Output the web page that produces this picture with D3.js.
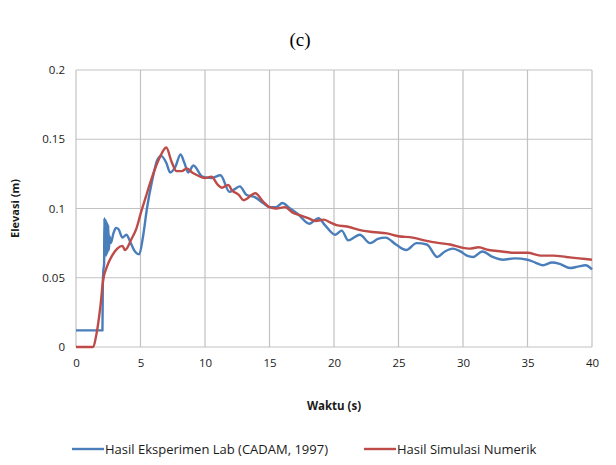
<!DOCTYPE html>
<html>
<head>
<meta charset="utf-8">
<script src="https://cdn.jsdelivr.net/npm/d3@7"></script>
<style>
  body { margin: 0; background: #fff; }
  svg { display: block; }
  .tick text { font-family: "Open Sans", sans-serif; font-size: 11.5px; fill: #1a1a1a; }
</style>
</head>
<body>
<div id="chart"></div>
<script>
'use strict';

// Experimental (CADAM, 1997)
const expTime = [0, 2.05, 2.08, 2.12, 2.18, 2.2, 2.25, 2.3, 2.35, 2.4, 2.45, 2.5, 2.55, 2.6, 2.7, 2.9, 3.1, 3.3, 3.6, 3.9,
  4.2, 4.5, 4.9, 5.2, 5.5, 5.9, 6.3, 6.6, 7.0, 7.3, 7.7, 8.1, 8.4, 8.7, 9.1, 9.8, 10.5, 11.2, 11.9, 12.3,
  12.7, 13.2, 13.9, 14.5, 15.0, 15.5, 16.0, 16.6, 17.2, 18.1, 18.8, 19.3, 20.1, 20.6, 21.1, 22.0, 22.8, 23.4, 24.0, 24.8,
  25.6, 26.4, 27.2, 28.0, 28.6, 29.2, 29.8, 30.3, 30.8, 31.5, 32.3, 33.1, 34.0, 35.0, 35.6, 36.2, 36.9, 37.5, 38.3, 38.9, 39.5, 40];
const expElev = [0.012, 0.012, 0.045, 0.055, 0.06, 0.093, 0.065, 0.092, 0.066, 0.090, 0.068, 0.088, 0.07, 0.08, 0.075, 0.082, 0.086, 0.085, 0.079, 0.081,
  0.076, 0.070, 0.067, 0.08, 0.1, 0.12, 0.135, 0.138, 0.133, 0.126, 0.13, 0.139, 0.133, 0.126, 0.131, 0.123, 0.122, 0.124, 0.112, 0.114,
  0.116, 0.110, 0.108, 0.104, 0.101, 0.101, 0.104, 0.100, 0.096, 0.089, 0.093, 0.088, 0.081, 0.084, 0.077, 0.081, 0.075, 0.078, 0.079, 0.074,
  0.070, 0.075, 0.074, 0.065, 0.069, 0.071, 0.069, 0.066, 0.065, 0.069, 0.065, 0.063, 0.064, 0.063, 0.061, 0.059, 0.061, 0.060, 0.057, 0.058, 0.059, 0.056];

// Numerical simulation
const simTime = [0, 1.3, 1.6, 1.9, 2.1, 2.4, 2.8, 3.2, 3.6, 3.8, 4.3, 4.7, 5.0, 5.4, 5.7, 6.1, 6.5, 7.0, 7.4, 7.8,
  8.2, 8.6, 9.0, 9.4, 10.0, 10.5, 11.0, 11.3, 11.8, 12.1, 12.6, 13.0, 13.9, 14.5, 15.0, 15.5, 16.2, 16.8, 17.4, 18.0,
  18.6, 19.2, 19.7, 20.2, 21.0, 22.2, 23.0, 24.1, 25.0, 26.1, 27.0, 28.2, 29.0, 29.8, 30.5, 31.2, 32.0, 33.0, 34.0, 35.0,
  36.0, 37.0, 38.0, 39.0, 40];
const simElev = [0, 0, 0.01, 0.03, 0.048, 0.058, 0.066, 0.071, 0.073, 0.070, 0.078, 0.086, 0.096, 0.108, 0.117, 0.128, 0.137, 0.144, 0.134, 0.127,
  0.127, 0.129, 0.126, 0.124, 0.122, 0.123, 0.117, 0.115, 0.117, 0.113, 0.110, 0.106, 0.111, 0.105, 0.101, 0.100, 0.101, 0.097, 0.095, 0.093,
  0.091, 0.092, 0.090, 0.088, 0.087, 0.084, 0.083, 0.082, 0.080, 0.079, 0.077, 0.075, 0.074, 0.072, 0.071, 0.072, 0.070, 0.069, 0.068, 0.068,
  0.066, 0.066, 0.065, 0.064, 0.063];

const xTicks = [0, 5, 10, 15, 20, 25, 30, 35, 40];
const yTicks = [0, 0.05, 0.1, 0.15, 0.2];
const seriesNames = ["Hasil Eksperimen Lab (CADAM, 1997)", "Hasil Simulasi Numerik"];
const seriesColors = ["#4a7ebb", "#be4b48"];

const W = 616, H = 465;
const margin = { top: 70, right: 24, bottom: 118, left: 76 };
const width = W - margin.left - margin.right;
const height = H - margin.top - margin.bottom;

const svg = d3.select("#chart").append("svg")
  .attr("width", W)
  .attr("height", H);

// title
svg.append("text")
  .attr("x", 300)
  .attr("y", 46)
  .attr("text-anchor", "middle")
  .style("font-family", "'Liberation Serif', serif")
  .style("font-size", "19px")
  .text("(c)");

const g = svg.append("g").attr("transform", `translate(${margin.left},${margin.top})`);

const x = d3.scaleLinear().domain([0, 40]).range([0, width]);
const y = d3.scaleLinear().domain([0, 0.2]).range([height, 0]);

// gridlines
g.append("g").selectAll("line.h")
  .data(yTicks).enter().append("line")
  .attr("x1", 0).attr("x2", width)
  .attr("y1", d => y(d)).attr("y2", d => y(d))
  .attr("stroke", "#c2c2c2").attr("stroke-width", 1.2);
g.append("g").selectAll("line.v")
  .data(xTicks).enter().append("line")
  .attr("y1", 0).attr("y2", height)
  .attr("x1", d => x(d)).attr("x2", d => x(d))
  .attr("stroke", "#c2c2c2").attr("stroke-width", 1.2);

// axes (labels only)
const xAxis = g.append("g")
  .attr("transform", `translate(0,${height})`)
  .call(d3.axisBottom(x).tickValues(xTicks).tickSize(0).tickPadding(12));
xAxis.select(".domain").remove();

const yAxis = g.append("g")
  .call(d3.axisLeft(y).tickValues(yTicks).tickSize(0).tickPadding(11)
    .tickFormat(d => d === 0 ? "0" : String(+d.toFixed(2))));
yAxis.select(".domain").remove();

// lines (smoothed, like the original spreadsheet chart)
const line = d3.line().curve(d3.curveMonotoneX).x(d => x(d[0])).y(d => y(d[1]));
const expData = expTime.map((t, i) => [t, expElev[i]]);
const simData = simTime.map((t, i) => [t, simElev[i]]);

g.append("path").datum(expData)
  .attr("fill", "none").attr("stroke", seriesColors[0])
  .attr("stroke-width", 2.4).attr("stroke-linejoin", "round")
  .attr("d", line);
g.append("path").datum(simData)
  .attr("fill", "none").attr("stroke", seriesColors[1])
  .attr("stroke-width", 2.4).attr("stroke-linejoin", "round")
  .attr("d", line);

// axis titles
svg.append("text")
  .attr("transform", `translate(19,${margin.top + height / 2}) rotate(-90)`)
  .attr("text-anchor", "middle")
  .style("font-family", "'Open Sans', sans-serif")
  .style("font-size", "11px")
  .style("font-weight", "bold")
  .attr("fill", "#1a1a1a")
  .text("Elevasi (m)");

svg.append("text")
  .attr("x", 334)
  .attr("y", 410)
  .attr("text-anchor", "middle")
  .style("font-family", "'Open Sans', sans-serif")
  .style("font-size", "11.5px")
  .style("font-weight", "bold")
  .attr("fill", "#1a1a1a")
  .text("Waktu (s)");

// legend
const legendX = [72, 364];
const legend = svg.append("g").selectAll("g")
  .data(seriesNames).enter().append("g")
  .attr("transform", (d, i) => `translate(${legendX[i]},449)`);
legend.append("line")
  .attr("x1", 0).attr("x2", 32)
  .attr("stroke", (d, i) => seriesColors[i])
  .attr("stroke-width", 2.4);
legend.append("text")
  .attr("x", 33).attr("y", 4.5)
  .style("font-family", "'Open Sans', sans-serif")
  .style("font-size", "13px")
  .attr("fill", "#1a1a1a")
  .text(d => d);
</script>
</body>
</html>
